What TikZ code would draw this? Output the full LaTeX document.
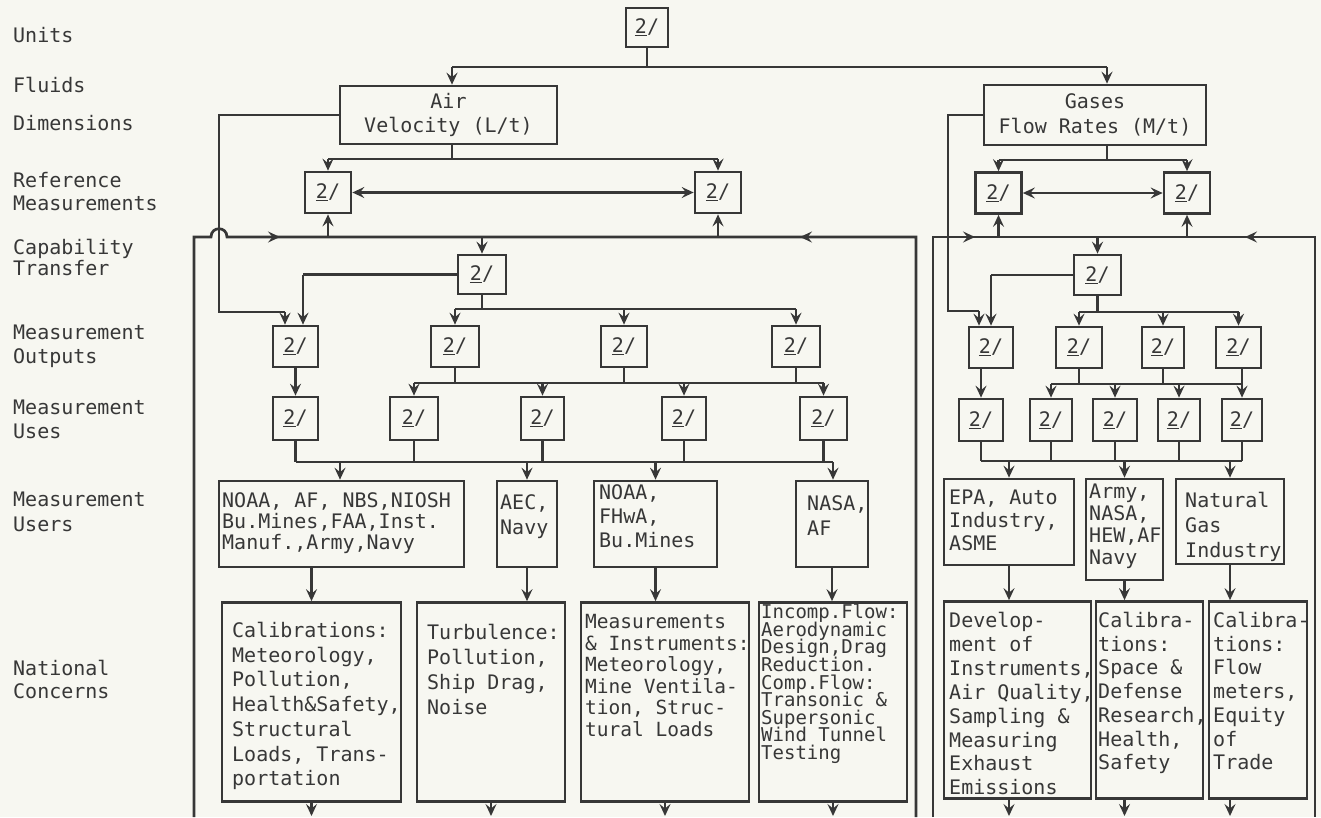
\documentclass[tikz,border=0pt]{standalone}
\usepackage{fontspec}
\newfontfamily\tw{DejaVu Sans Mono}
\usetikzlibrary{arrows.meta}
\definecolor{ink}{RGB}{55,55,55}
\definecolor{paper}{RGB}{247,247,241}
\begin{document}
\begin{tikzpicture}[x=1pt,y=-1pt,
  every node/.style={font={\tw\fontsize{20}{24.5}\selectfont\lineskiplimit=-50pt}, text=ink},
  ln/.style={draw=ink,line width=2.7pt},
  arr/.style={ln,-{Stealth[length=12pt,width=11pt,inset=4.5pt]}},
  darr/.style={ln,{Stealth[length=12pt,width=11pt,inset=4.5pt]}-{Stealth[length=12pt,width=11pt,inset=4.5pt]}},
  two/.style={draw=ink,line width=2.7pt,minimum width=46pt,minimum height=42pt,inner sep=0pt,fill=paper},
  bigbox/.style={draw=ink,line width=2.7pt,inner sep=0pt},
  txt/.style={anchor=north west,inner sep=0pt,align=left},
  lab/.style={anchor=north west,inner sep=0pt,align=left},
]
\fill[paper] (0,0) rectangle (1321,817);
\useasboundingbox (0,0) rectangle (1321,817);

% ---------- row labels ----------
\node[lab] (l1) at (13,27) {Units};
\node[lab] (l2) at (13,77) {Fluids};
\node[lab] (l3) at (13,115) {Dimensions};
\node[lab, font={\tw\fontsize{20}{23}\selectfont\lineskiplimit=-50pt}] (l4) at (13,172) {Reference\\Measurements};
\node[lab, font={\tw\fontsize{20}{21}\selectfont\lineskiplimit=-50pt}] (l5) at (13,239) {Capability\\Transfer};
\node[lab, font={\tw\fontsize{20}{24}\selectfont\lineskiplimit=-50pt}] (l6) at (13,325) {Measurement\\Outputs};
\node[lab, font={\tw\fontsize{20}{24}\selectfont\lineskiplimit=-50pt}] (l7) at (13,400) {Measurement\\Uses};
\node[lab, font={\tw\fontsize{20}{25}\selectfont\lineskiplimit=-50pt}] (l8) at (13,492) {Measurement\\Users};
\node[lab, font={\tw\fontsize{20}{23}\selectfont\lineskiplimit=-50pt}] (l9) at (13,660) {National\\Concerns};

% ---------- top ----------
\node[two, minimum width=42pt, minimum height=39pt] (T) at (647,27.5) {\underline{2}/};
\node[bigbox, minimum width=217pt, minimum height=58pt, align=center] (A) at (448.5,115) {Air\\Velocity (L/t)};
\node[bigbox, minimum width=222pt, minimum height=60pt, align=center] (G) at (1095,115) {Gases\\Flow Rates (M/t)};

% reference measurements
\node[two, minimum height=41pt] (R1) at (328,192.5) {\underline{2}/};
\node[two, minimum height=41pt] (R2) at (718,192.5) {\underline{2}/};
\node[two, minimum height=41pt] (R3) at (998.5,193) {\underline{2}/};
\node[two, minimum height=41pt] (R4) at (1187,193) {\underline{2}/};

% capability transfer
\node[two, minimum width=48pt, minimum height=39pt] (C1) at (482,274.5) {\underline{2}/};
\node[two, minimum width=47pt, minimum height=40pt] (C2) at (1097.5,275) {\underline{2}/};

% measurement outputs
\node[two, minimum width=45pt, minimum height=41pt] (O1) at (295.5,346.5) {\underline{2}/};
\node[two, minimum width=48pt, minimum height=41pt] (O2) at (455,346.5) {\underline{2}/};
\node[two, minimum width=46pt, minimum height=41pt] (O3) at (624,346.5) {\underline{2}/};
\node[two, minimum width=48pt, minimum height=41pt] (O4) at (796,346.5) {\underline{2}/};
\node[two, minimum width=44pt, minimum height=41pt] (P1) at (991,347.5) {\underline{2}/};
\node[two, minimum width=46pt, minimum height=41pt] (P2) at (1079,347.5) {\underline{2}/};
\node[two, minimum width=42pt, minimum height=41pt] (P3) at (1163,347.5) {\underline{2}/};
\node[two, minimum width=45pt, minimum height=41pt] (P4) at (1238.5,347.5) {\underline{2}/};

% measurement uses
\node[two, minimum width=45pt, minimum height=43pt] (U1) at (295.5,418.5) {\underline{2}/};
\node[two, minimum width=48pt, minimum height=43pt] (U2) at (414,418.5) {\underline{2}/};
\node[two, minimum width=43pt, minimum height=43pt] (U3) at (542.5,418.5) {\underline{2}/};
\node[two, minimum width=44pt, minimum height=43pt] (U4) at (684,418.5) {\underline{2}/};
\node[two, minimum width=47pt, minimum height=43pt] (U5) at (823.5,418.5) {\underline{2}/};
\node[two, minimum width=44pt, minimum height=42pt] (V1) at (981,420) {\underline{2}/};
\node[two, minimum width=42pt, minimum height=42pt] (V2) at (1051,420) {\underline{2}/};
\node[two, minimum width=44pt, minimum height=42pt] (V3) at (1115,420) {\underline{2}/};
\node[two, minimum width=42pt, minimum height=42pt] (V4) at (1179,420) {\underline{2}/};
\node[two, minimum width=40pt, minimum height=42pt] (V5) at (1242,420) {\underline{2}/};

% measurement users (boxes)
\node[bigbox, minimum width=245pt, minimum height=86pt] (N1) at (341.5,524) {};
\node[bigbox, minimum width=60pt, minimum height=86pt] (N2) at (527,524) {};
\node[bigbox, minimum width=123pt, minimum height=86pt] (N3) at (655.5,524) {};
\node[bigbox, minimum width=72pt, minimum height=86pt] (N4) at (832,524) {};
\node[bigbox, minimum width=130pt, minimum height=86pt] (M1) at (1009,522) {};
\node[bigbox, minimum width=77pt, minimum height=101pt] (M2) at (1124.5,529.5) {};
\node[bigbox, minimum width=108pt, minimum height=85pt] (M3) at (1230,521.5) {};

% users texts
\node[txt, font={\tw\fontsize{20}{21}\selectfont\lineskiplimit=-50pt}] (n1t) at (222,492) {NOAA, AF, NBS,NIOSH\\Bu.Mines,FAA,Inst.\\Manuf.,Army,Navy};
\node[txt, font={\tw\fontsize{20}{25}\selectfont\lineskiplimit=-50pt}] (n2t) at (500,494) {AEC,\\Navy};
\node[txt, font={\tw\fontsize{20}{24}\selectfont\lineskiplimit=-50pt}] (n3t) at (599,484) {NOAA,\\FHwA,\\Bu.Mines};
\node[txt, font={\tw\fontsize{20}{25}\selectfont\lineskiplimit=-50pt}] (n4t) at (807,495) {NASA,\\AF};
\node[txt, font={\tw\fontsize{20}{23}\selectfont\lineskiplimit=-50pt}] (m1t) at (949,490) {EPA, Auto\\Industry,\\ASME};
\node[txt, font={\tw\fontsize{20}{22}\selectfont\lineskiplimit=-50pt}] (m2t) at (1089,484) {Army,\\NASA,\\HEW,AF\\Navy};
\node[txt, font={\tw\fontsize{20}{25}\selectfont\lineskiplimit=-50pt}] (m3t) at (1185,492) {Natural\\Gas\\Industry};

% national concerns (boxes)
\node[bigbox, minimum width=179pt, minimum height=199pt] (K1) at (311.5,702) {};
\node[bigbox, minimum width=148pt, minimum height=199pt] (K2) at (491,702) {};
\node[bigbox, minimum width=168pt, minimum height=199pt] (K3) at (665,702) {};
\node[bigbox, minimum width=148pt, minimum height=199pt] (K4) at (833,702) {};
\node[bigbox, minimum width=147pt, minimum height=197pt] (K5) at (1017.5,700) {};
\node[bigbox, minimum width=107pt, minimum height=197pt] (K6) at (1149.5,700) {};
\node[bigbox, minimum width=98pt, minimum height=197pt] (K7) at (1258,700) {};

% concerns texts
\node[txt, font={\tw\fontsize{20}{24.7}\selectfont\lineskiplimit=-50pt}] (k1t) at (232,622) {Calibrations:\\Meteorology,\\Pollution,\\Health\&Safety,\\Structural\\Loads, Trans-\\portation};
\node[txt, font={\tw\fontsize{20}{25}\selectfont\lineskiplimit=-50pt}] (k2t) at (427,624) {Turbulence:\\Pollution,\\Ship Drag,\\Noise};
\node[txt, font={\tw\fontsize{19.5}{21.6}\selectfont\lineskiplimit=-50pt}] (k3t) at (585,614) {Measurements\\\& Instruments:\\Meteorology,\\Mine Ventila-\\tion, Struc-\\tural Loads};
\node[txt, font={\tw\fontsize{19}{17.6}\selectfont\lineskiplimit=-50pt}] (k4t) at (761,604) {Incomp.Flow:\\Aerodynamic\\Design,Drag\\Reduction.\\Comp.Flow:\\Transonic \&\\Supersonic\\Wind Tunnel\\Testing};
\node[txt, font={\tw\fontsize{20}{23.9}\selectfont\lineskiplimit=-50pt}] (k5t) at (949,612) {Develop-\\ment of\\Instruments,\\Air Quality,\\Sampling \&\\Measuring\\Exhaust\\Emissions};
\node[txt, font={\tw\fontsize{20}{23.7}\selectfont\lineskiplimit=-50pt}] (k6t) at (1098,612) {Calibra-\\tions:\\Space \&\\Defense\\Research,\\Health,\\Safety};
\node[txt, font={\tw\fontsize{20}{23.7}\selectfont\lineskiplimit=-50pt}] (k7t) at (1213,612) {Calibra-\\tions:\\Flow\\meters,\\Equity\\of\\Trade};

% ---------- coordinates ----------
\coordinate (h0L) at (452,67);
\coordinate (h0R) at (1107,67);
\coordinate (a1) at (452,159);
\coordinate (g1) at (1107,160);
\coordinate (LB) at (194,817);
\coordinate (LT) at (194,237);
\coordinate (J1) at (211,237);
\coordinate (J2) at (227,237);
\coordinate (LA1) at (280,237);
\coordinate (LR) at (916,237);
\coordinate (LRB) at (916,817);
\coordinate (LA2) at (800,237);
\coordinate (RB) at (933,817);
\coordinate (RTL) at (933,237);
\coordinate (RTR) at (1315,237);
\coordinate (RBR) at (1315,817);
\coordinate (RA1) at (975,237);
\coordinate (RA2) at (1245,237);
\coordinate (av1) at (219,115);
\coordinate (av2) at (219,312);
\coordinate (av3) at (285,312);
\coordinate (gv1) at (948,115);
\coordinate (gv2) at (948,311);
\coordinate (gv3) at (979,311);
\coordinate (c1l) at (303,274.5);
\coordinate (l309) at (0,309);
\coordinate (l312) at (0,312);
\coordinate (l383) at (0,383);
\coordinate (l384) at (0,384);
\coordinate (l462) at (0,462);
\coordinate (l461) at (0,461);
\coordinate (n1in) at (340,462);
\coordinate (n4in) at (833,462);
\coordinate (bot) at (0,816);

% ---------- connectors ----------
% top
\draw[ln] (T.south) -- (T.south |- h0L);
\draw[ln] (h0L) -- (h0R);
\draw[arr] (h0L) -- (h0L |- A.north);
\draw[arr] (h0R) -- (h0R |- G.north);
% reference
\draw[ln] (a1 |- A.south) -- (a1);
\draw[ln] (R1 |- a1) -- (R2 |- a1);
\draw[arr] (R1 |- a1) -- (R1.north);
\draw[arr] (R2 |- a1) -- (R2.north);
\draw[darr] (R1.east) -- (R2.west);
\draw[ln] (g1 |- G.south) -- (g1);
\draw[ln] (R3 |- g1) -- (R4 |- g1);
\draw[arr] (R3 |- g1) -- (R3.north);
\draw[arr] (R4 |- g1) -- (R4.north);
\draw[darr] (R3.east) -- (R4.west);
% frames
\draw[ln] (LB) -- (LT) -- (J1) .. controls (211,226) and (227,226) .. (J2) -- (LR) -- (LRB);
\draw[arr] (J2) -- (LA1);
\draw[arr] (LR) -- (LA2);
\draw[ln] (RB) -- (RTL) -- (RTR) -- (RBR);
\draw[arr] (RTL) -- (RA1);
\draw[arr] (RTR) -- (RA2);
\draw[arr] (R1 |- LT) -- (R1.south);
\draw[arr] (R2 |- LT) -- (R2.south);
\draw[arr] (R3 |- RTL) -- (R3.south);
\draw[arr] (R4 |- RTL) -- (R4.south);
\draw[arr] (C1 |- LT) -- (C1.north);
\draw[arr] (C2 |- RTL) -- (C2.north);
% dimension side lines
\draw[ln] (A.west) -- (av1) -- (av2) -- (av3);
\draw[arr] (av3) -- (av3 |- O1.north);
\draw[ln] (G.west) -- (gv1) -- (gv2) -- (gv3);
\draw[arr] (gv3) -- (gv3 |- P1.north);
% capability -> outputs (left)
\draw[ln] (C1.west) -- (c1l);
\draw[arr] (c1l) -- (c1l |- O1.north);
\draw[ln] (C1.south) -- (C1 |- l309);
\draw[ln] (O2 |- l309) -- (O4 |- l309);
\draw[arr] (O2 |- l309) -- (O2.north);
\draw[arr] (O3 |- l309) -- (O3.north);
\draw[arr] (O4 |- l309) -- (O4.north);
% capability -> outputs (right)
\draw[ln] (C2.west) -- (P1 |- C2.west);
\draw[arr] (P1 |- C2.west) -- (P1.north);
\draw[ln] (C2.south) -- (C2 |- l312);
\draw[ln] (P2 |- l312) -- (P4 |- l312);
\draw[arr] (P2 |- l312) -- (P2.north);
\draw[arr] (P3 |- l312) -- (P3.north);
\draw[arr] (P4 |- l312) -- (P4.north);
% outputs -> uses (left)
\draw[arr] (O1.south) -- (U1.north);
\draw[ln] (O2.south) -- (O2 |- l383);
\draw[ln] (O3.south) -- (O3 |- l383);
\draw[ln] (O4.south) -- (O4 |- l383);
\draw[ln] (U2 |- l383) -- (U5 |- l383);
\draw[arr] (U2 |- l383) -- (U2.north);
\draw[arr] (U3 |- l383) -- (U3.north);
\draw[arr] (U4 |- l383) -- (U4.north);
\draw[arr] (U5 |- l383) -- (U5.north);
% outputs -> uses (right)
\draw[arr] (V1 |- P1.south) -- (V1.north);
\draw[ln] (P2.south) -- (P2 |- l384);
\draw[ln] (P3.south) -- (P3 |- l384);
\draw[ln] (V2 |- l384) -- (V5 |- l384);
\draw[arr] (V2 |- l384) -- (V2.north);
\draw[arr] (V3 |- l384) -- (V3.north);
\draw[arr] (V4 |- l384) -- (V4.north);
\draw[arr] (V5 |- P4.south) -- (V5.north);
% uses -> users (left)
\draw[ln] (U1.south) -- (U1 |- l462);
\draw[ln] (U2.south) -- (U2 |- l462);
\draw[ln] (U3.south) -- (U3 |- l462);
\draw[ln] (U4.south) -- (U4 |- l462);
\draw[ln] (U5.south) -- (U5 |- l462);
\draw[ln] (U1 |- l462) -- (n4in);
\draw[arr] (n1in) -- (n1in |- N1.north);
\draw[arr] (N2 |- l462) -- (N2.north);
\draw[arr] (N3 |- l462) -- (N3.north);
\draw[arr] (n4in) -- (n4in |- N4.north);
% uses -> users (right)
\draw[ln] (V1.south) -- (V1 |- l461);
\draw[ln] (V2.south) -- (V2 |- l461);
\draw[ln] (V3.south) -- (V3 |- l461);
\draw[ln] (V4.south) -- (V4 |- l461);
\draw[ln] (V5.south) -- (V5 |- l461);
\draw[ln] (V1 |- l461) -- (V5 |- l461);
\draw[arr] (M1 |- l461) -- (M1.north);
\draw[arr] (M2 |- l461) -- (M2.north);
\draw[arr] (M3 |- l461) -- (M3.north);
% users -> concerns
\draw[arr] (K1 |- N1.south) -- (K1.north);
\draw[arr] (N2.south) -- (N2 |- K2.north);
\draw[arr] (N3.south) -- (N3 |- K3.north);
\draw[arr] (N4.south) -- (N4 |- K4.north);
\draw[arr] (M1.south) -- (M1 |- K5.north);
\draw[arr] (M2.south) -- (M2 |- K6.north);
\draw[arr] (M3.south) -- (M3 |- K7.north);
% concerns -> below
\draw[arr] (K1.south) -- (K1 |- bot);
\draw[arr] (K2.south) -- (K2 |- bot);
\draw[arr] (K3.south) -- (K3 |- bot);
\draw[arr] (K4.south) -- (K4 |- bot);
\draw[arr] (M1 |- K5.south) -- (M1 |- bot);
\draw[arr] (M2 |- K6.south) -- (M2 |- bot);
\draw[arr] (M3 |- K7.south) -- (M3 |- bot);
\end{tikzpicture}
\end{document}
